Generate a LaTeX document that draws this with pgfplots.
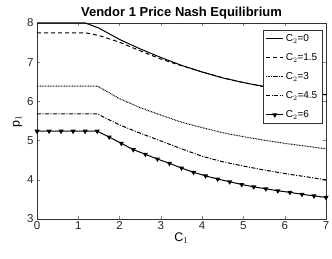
\documentclass[border=0pt]{standalone}
\usepackage{pgfplots}
\pgfplotsset{compat=1.18}
\usepackage{fontspec}
\setmainfont{Liberation Sans}
\setsansfont{Liberation Sans}
\begin{document}
\begin{tikzpicture}
\useasboundingbox (-37pt,-40pt) rectangle (295pt,219pt);
\begin{axis}[
  at={(0,0)}, anchor=south west,
  scale only axis, width=289pt, height=196pt,
  xmin=0, xmax=7, ymin=3, ymax=8,
  xtick={0,1,...,7}, ytick={3,4,...,8},
  tick align=inside, tick pos=both,
  major tick length=3pt,
  /pgf/number format/assume math mode=true,
  tick label style={font=\fontsize{11.5}{13}\selectfont, text=black!85},
  xticklabel style={yshift=1pt},
  every axis label/.append style={font=\fontsize{12.5}{14}\selectfont},
  xlabel={C$_1$}, ylabel={p$_1$},
  xlabel style={yshift=4pt},
  ylabel style={yshift=-2pt},
  title={\bfseries Vendor 1 Price Nash Equilibrium},
  title style={font=\fontsize{13}{15}\selectfont, yshift=-5.5pt},
  axis line style={black!80, line width=0.5pt},
  legend style={at={(1,1)}, anchor=north east, xshift=-4pt, yshift=-7pt,
    font=\fontsize{10}{12}\selectfont, draw=black!80,
    row sep=6.5pt, inner sep=2.5pt},
  legend cell align=left,
  every axis plot/.append style={line width=1pt, black},
]
\addplot[solid] coordinates {
(0,8) (1.17,8) (1.5,7.87) (2,7.58) (2.5,7.34) (3,7.12) (3.5,6.92) (4,6.75)
(4.5,6.60) (5,6.48) (5.5,6.38) (6,6.30) (6.5,6.23) (7,6.17)};
\addlegendentry{C$_2$=0}
\addplot[dash pattern=on 4pt off 3pt] coordinates {
(0,7.75) (1.17,7.75) (1.5,7.68) (2,7.51) (2.5,7.29) (3,7.08) (3.5,6.91) (4,6.75)
(4.5,6.60) (5,6.48) (5.5,6.38) (6,6.30) (6.5,6.23) (7,6.17)};
\addlegendentry{C$_2$=1.5}
\addplot[dash pattern=on 0.8pt off 0.8pt] coordinates {
(0,6.39) (1.46,6.39) (2,6.07) (2.5,5.84) (3,5.65) (3.5,5.47) (4,5.33)
(4.5,5.20) (5,5.10) (5.5,5.01) (6,4.93) (6.5,4.86) (7,4.79)};
\addlegendentry{C$_2$=3}
\addplot[dash pattern=on 4pt off 1.5pt on 1pt off 1.5pt] coordinates {
(0,5.68) (1.46,5.68) (2,5.40) (2.5,5.19) (3,4.99) (3.5,4.79) (4,4.60)
(4.5,4.46) (5,4.35) (5.5,4.25) (6,4.16) (6.5,4.08) (7,4.00)};
\addlegendentry{C$_2$=4.5}
\addplot[solid, mark=triangle*, mark options={rotate=180, solid, fill=black, scale=1.0}] coordinates {
(0,5.24) (0.2917,5.24) (0.5833,5.24) (0.875,5.24) (1.1667,5.24) (1.4583,5.24)
(1.75,5.09) (2.0417,4.93) (2.3333,4.77) (2.625,4.65) (2.9167,4.53) (3.2083,4.42)
(3.5,4.30) (3.7917,4.19) (4.0833,4.10) (4.375,4.02) (4.6667,3.95) (4.9583,3.88)
(5.25,3.82) (5.5417,3.77) (5.8333,3.72) (6.125,3.68) (6.4167,3.63) (6.7083,3.59) (7,3.55)};
\addlegendentry{C$_2$=6}
\end{axis}
\end{tikzpicture}
\end{document}
